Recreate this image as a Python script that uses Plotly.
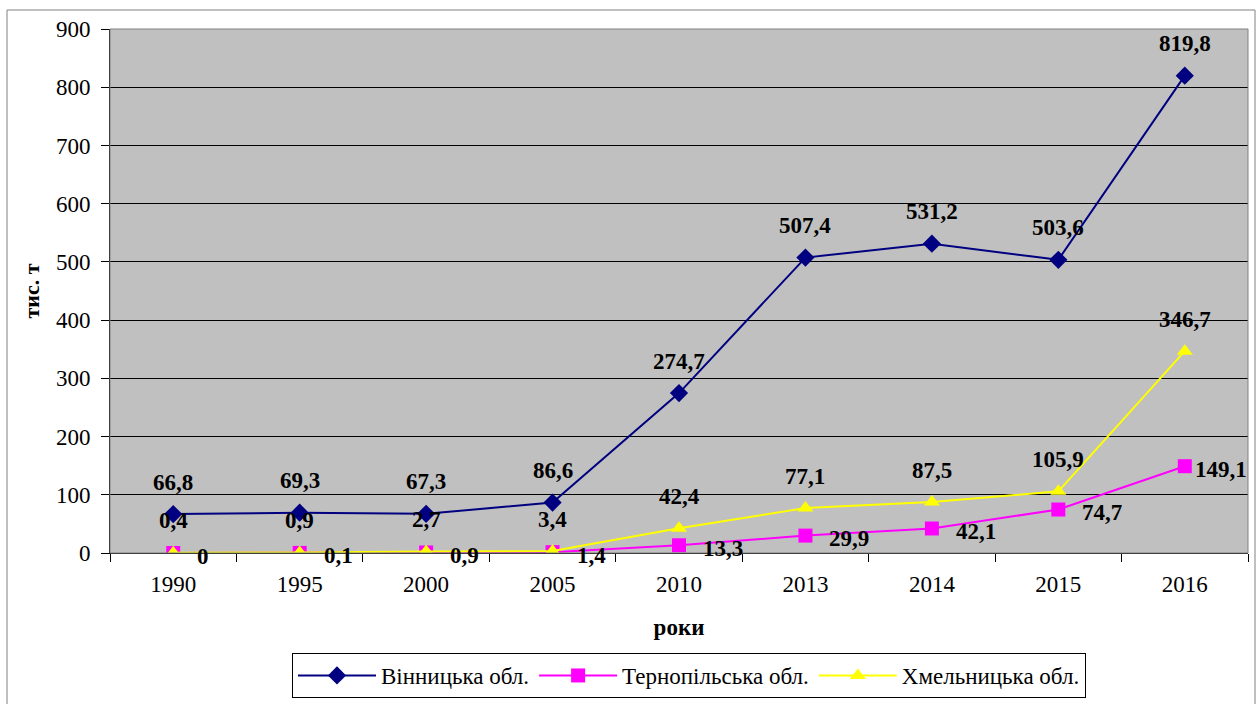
import plotly.graph_objects as go

years = ["1990", "1995", "2000", "2005", "2010", "2013", "2014", "2015", "2016"]
vinnytsia = [66.8, 69.3, 67.3, 86.6, 274.7, 507.4, 531.2, 503.6, 819.8]
ternopil = [0, 0.1, 0.9, 1.4, 13.3, 29.9, 42.1, 74.7, 149.1]
khmelnytskyi = [0.4, 0.9, 2.7, 3.4, 42.4, 77.1, 87.5, 105.9, 346.7]

names = ["Вінницька обл.", "Тернопільська обл.", "Хмельницька обл."]
colors = ["#000080", "#FF00FF", "#FFFF00"]
symbols = ["diamond", "square", "triangle-up"]
sizes = [14, 14, 14]
series = [vinnytsia, ternopil, khmelnytskyi]

def fmt(v):
    return ("%g" % v).replace(".", ",")

SERIF = "Liberation Serif"

fig = go.Figure()
for name, col, sym, sz, vals in zip(names, colors, symbols, sizes, series):
    fig.add_trace(go.Scatter(
        x=years, y=vals, name=name, mode="lines+markers",
        line=dict(color=col, width=2),
        marker=dict(symbol=sym, size=sz, color=col),
        hoverinfo="skip",
    ))

annotations = []
for vals in (vinnytsia, khmelnytskyi):
    for i, v in enumerate(vals):
        annotations.append(dict(
            x=i, y=v, xref="x", yref="y", text="<b>" + fmt(v) + "</b>",
            showarrow=False, yshift=32,
            font=dict(family=SERIF, size=23, color="black"),
            xanchor="center", yanchor="middle"))
n = len(ternopil)
for i, v in enumerate(ternopil):
    annotations.append(dict(
        x=i, y=v, xref="x", yref="y", text="<b>" + fmt(v) + "</b>",
        showarrow=False, xshift=(8 if i == n - 1 else 22), yshift=-3,
        font=dict(family=SERIF, size=23, color="black"),
        xanchor="left", yanchor="middle"))

L, R, T, B = 110, 11, 29, 151
W, H = 1259, 704
pw, ph = W - L - R, H - T - B

def px_x(p):
    return (p - L) / pw

def px_y(p):
    return (H - B - p) / ph

fig.update_layout(
    width=W, height=H,
    margin=dict(l=L, r=R, t=T, b=B, autoexpand=False),
    paper_bgcolor="white",
    plot_bgcolor="#C0C0C0",
    font=dict(family=SERIF, size=23, color="black"),
    showlegend=True,
    legend=dict(
        orientation="h", x=px_x(689), xanchor="center",
        y=px_y(653), yanchor="top",
        bordercolor="black", borderwidth=1,
        font=dict(family=SERIF, size=23, color="black"),
        itemwidth=78,
    ),
    xaxis=dict(
        type="category", range=[-0.5, 8.5],
        showgrid=False, showline=True, linecolor="black", linewidth=1,
        ticks="outside", tickson="boundaries", ticklen=8, tickcolor="black",
        tickfont=dict(family=SERIF, size=23), ticklabelstandoff=10,
        title=dict(text="<b>роки</b>", font=dict(family=SERIF, size=23), standoff=23),
        zeroline=False,
    ),
    yaxis=dict(
        range=[0, 900], dtick=100,
        showgrid=True, gridcolor="black", gridwidth=1,
        showline=True, linecolor="black", linewidth=1,
        ticks="outside", ticklen=8, tickcolor="black",
        tickfont=dict(family=SERIF, size=23), ticklabelstandoff=6,
        title=dict(text="<b>тис. т</b>", font=dict(family=SERIF, size=22), standoff=10),
        zeroline=False,
    ),
    annotations=annotations,
    shapes=[
        dict(type="rect", xref="paper", yref="paper", x0=0, x1=1, y0=0, y1=1,
             line=dict(color="#808080", width=1), fillcolor="rgba(0,0,0,0)", layer="above"),
        dict(type="rect", xref="paper", yref="paper",
             x0=px_x(7), x1=px_x(1255), y0=px_y(712), y1=px_y(10),
             line=dict(color="#808080", width=1), fillcolor="rgba(0,0,0,0)", layer="below"),
    ],
)

fig.write_html("out.html", config={"displayModeBar": False},
               post_script="document.body.style.margin='0';")
